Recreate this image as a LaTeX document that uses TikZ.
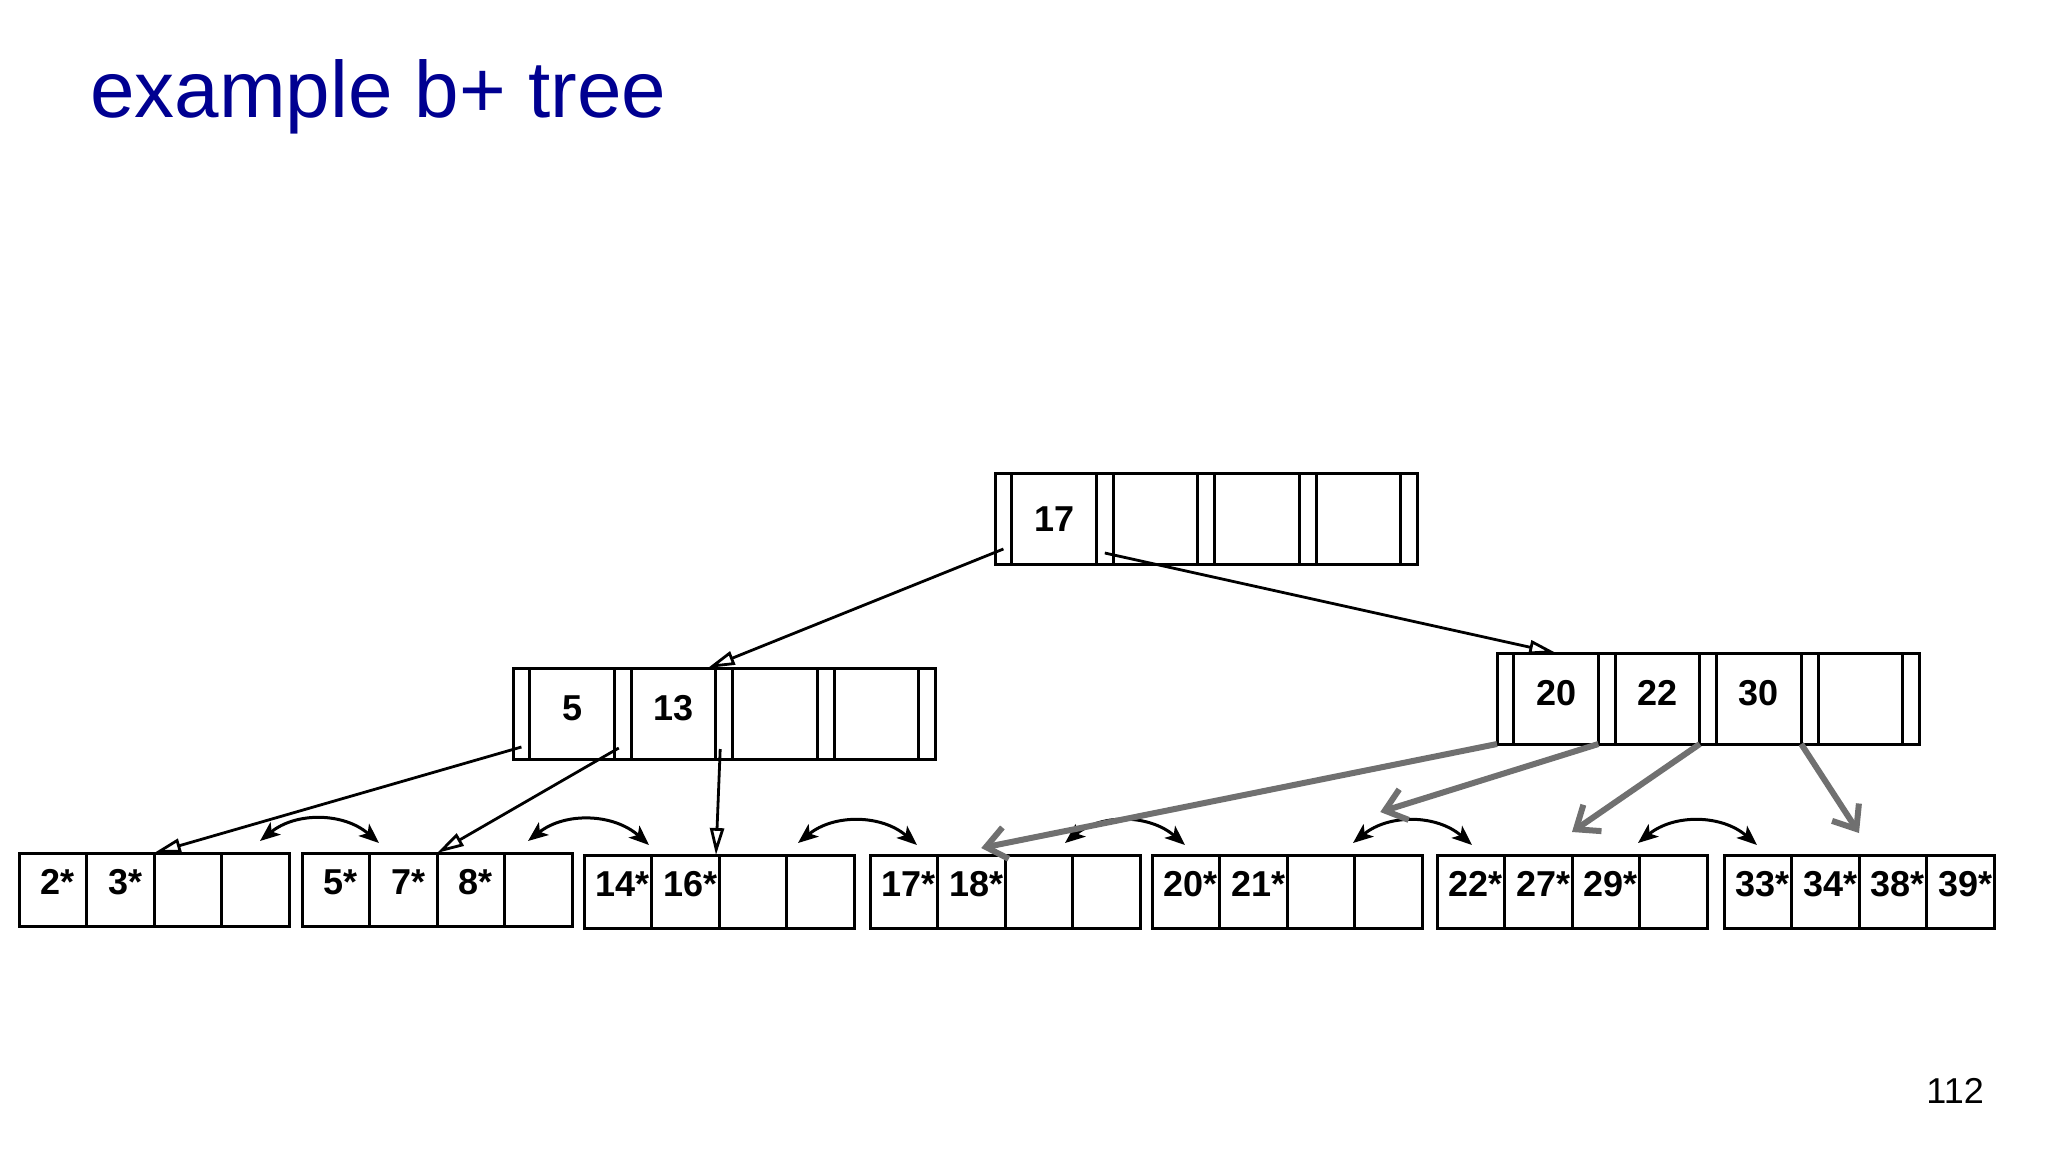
\documentclass[tikz,border=0pt]{standalone}
\usepackage{fontspec}
\setmainfont{Liberation Sans}
\usepackage{xcolor}
\usetikzlibrary{arrows.meta,positioning}

\definecolor{titleblue}{RGB}{0,0,145}
\definecolor{arrowgray}{RGB}{112,112,112}

\begin{document}
\begin{tikzpicture}[
    x=1pt, y=-1pt,
    ptrslot/.style={rectangle, draw, line width=3pt, minimum width=16.8pt, minimum height=91pt, inner sep=0pt, outer sep=0pt},
    keyslot/.style={ptrslot, minimum width=84.6pt, font=\bfseries\fontsize{36}{40}\selectfont, text height=26pt, text depth=#1},
    keyslot/.default=13pt,
    leafcell/.style={rectangle, draw, line width=3pt, minimum width=67.5pt, minimum height=73pt, inner sep=0pt, outer sep=0pt,
        font=\bfseries\fontsize{36}{40}\selectfont, text height=26pt, text depth=17pt, execute at begin node={\hspace*{10pt}}},
    treearrow/.style={-{Triangle[open, length=27pt, width=14pt]}, line width=2.8pt},
    grayarrow/.style={-{Straight Barb[length=20pt, width=32pt]}, line width=6pt, draw=arrowgray},
    sibarrow/.style={{Stealth[length=20pt, width=16pt, inset=5pt]}-{Stealth[length=20pt, width=16pt, inset=5pt]}, line width=3pt}
]
\useasboundingbox (0,0) rectangle (2048,1152);

% title and page number
\node[anchor=base west, inner sep=0pt, text=titleblue, font=\fontsize{80}{90}\selectfont] (title) at (90,117) {example b+ tree};
\node[anchor=base east, inner sep=0pt, font=\fontsize{36}{40}\selectfont] (pagenum) at (1984,1103) {112};

% index pages: pointer slot, key, pointer slot, ...
\foreach \n/\x/\y/\td/\ka/\kb/\kc/\kd in {r/1003.4/518.5/0pt/17/{}/{}/{}, li/521.4/713.5/13pt/5/13/{}/{}, ri/1505.4/698.5/13pt/20/22/30/{}} {
  \node[ptrslot] (\n-p0) at (\x,\y) {};
  \node[keyslot=\td, right=0pt of \n-p0] (\n-k1) {\ka};
  \node[ptrslot, right=0pt of \n-k1] (\n-p1) {};
  \node[keyslot=\td, right=0pt of \n-p1] (\n-k2) {\kb};
  \node[ptrslot, right=0pt of \n-k2] (\n-p2) {};
  \node[keyslot=\td, right=0pt of \n-p2] (\n-k3) {\kc};
  \node[ptrslot, right=0pt of \n-k3] (\n-p3) {};
  \node[keyslot=\td, right=0pt of \n-p3] (\n-k4) {\kd};
  \node[ptrslot, right=0pt of \n-k4] (\n-p4) {};
}

% leaf pages
\foreach \n/\x/\y/\ka/\kb/\kc/\kd in {1/52.75/889.5/2*/3*/{}/{}, 2/335.75/889.5/5*/7*/8*/{}, 3/617.75/891.5/14*/16*/{}/{},
    4/903.75/891.5/17*/18*/{}/{}, 5/1185.75/891.5/20*/21*/{}/{}, 6/1470.75/891.5/22*/27*/29*/{}, 7/1757.75/891.5/33*/34*/38*/39*} {
  \node[leafcell] (l\n-c1) at (\x,\y) {\ka};
  \node[leafcell, right=0pt of l\n-c1] (l\n-c2) {\kb};
  \node[leafcell, right=0pt of l\n-c2] (l\n-c3) {\kc};
  \node[leafcell, right=0pt of l\n-c3] (l\n-c4) {\kd};
}

\draw[treearrow] ([yshift=15pt]r-p0.south) -- ([xshift=-8pt]li-k2.north east);
\draw[treearrow] ([yshift=11pt]r-p1.south) -- (ri-k1.north);
\draw[treearrow] ([yshift=12pt]li-p0.south) -- (l1-c2.north east);
\draw[treearrow] ([xshift=-4pt, yshift=11pt]li-p1.south) -- (l2-c3.north west);
\draw[treearrow] ([xshift=-4pt, yshift=10pt]li-p2.south) -- ([xshift=-3pt]l3-c2.north east);

% sibling links
\draw[sibarrow] ([shift={(-29pt,12pt)}]l1-c4.north east) to[bend left=40] ([shift={(77pt,10pt)}]l2-c1.north west);
\draw[sibarrow] ([shift={(-44pt,12pt)}]l2-c4.north east) to[bend left=40] ([shift={(65pt,10pt)}]l3-c1.north west);
\draw[sibarrow] ([shift={(-56pt,12pt)}]l3-c4.north east) to[bend left=40] ([shift={(47pt,10pt)}]l4-c1.north west);
\draw[sibarrow] ([shift={(-75pt,12pt)}]l4-c4.north east) to[bend left=40] ([shift={(33pt,10pt)}]l5-c1.north west);
\draw[sibarrow] ([shift={(-69pt,12pt)}]l5-c4.north east) to[bend left=40] ([shift={(35pt,10pt)}]l6-c1.north west);
\draw[sibarrow] ([shift={(-69pt,12pt)}]l6-c4.north east) to[bend left=40] ([shift={(33pt,10pt)}]l7-c1.north west);

% right index page pointers
\draw[grayarrow] (ri-p0.south west) -- ([shift={(10pt,7pt)}]l4-c2.north);
\draw[grayarrow] (ri-p1.south west) -- ([shift={(-8pt,43pt)}]l5-c4.north);
\draw[grayarrow] (ri-p2.south west) -- ([yshift=23pt]l6-c3.north west);
\draw[grayarrow] (ri-p3.south west) -- ([yshift=22pt]l7-c3.north west);
\end{tikzpicture}
\end{document}
